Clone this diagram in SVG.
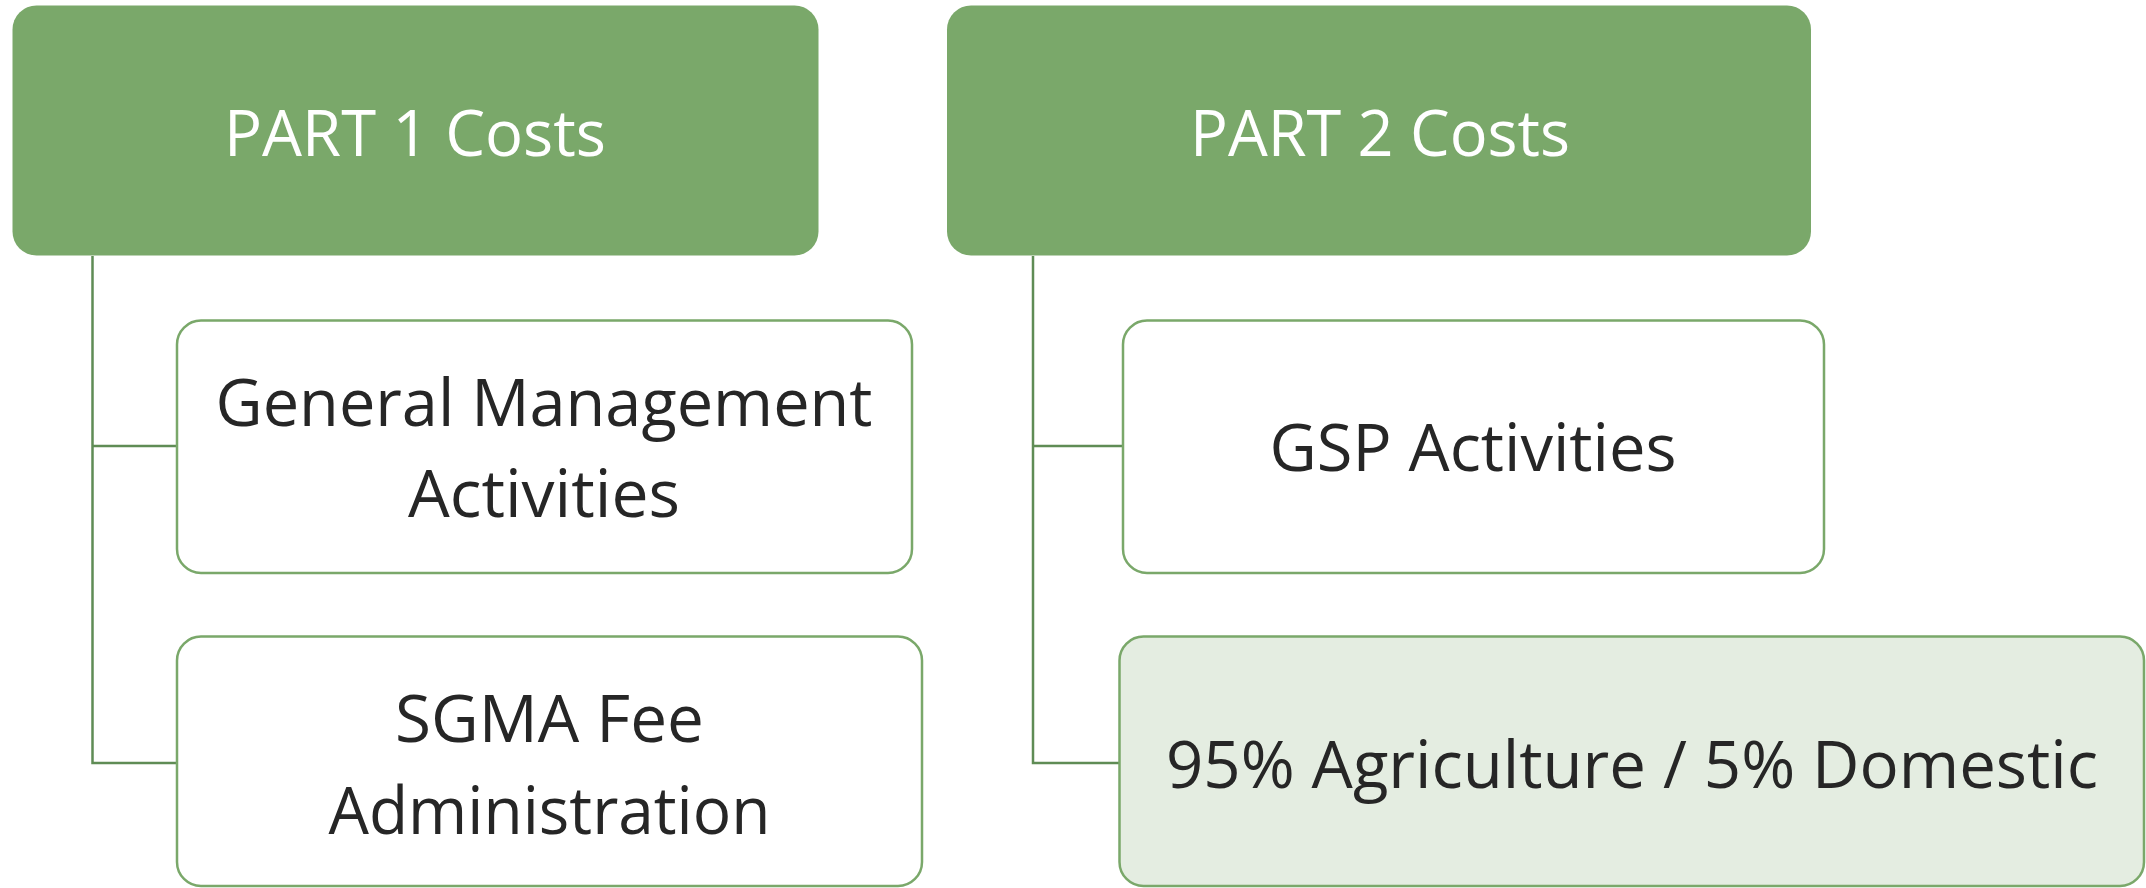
<svg xmlns="http://www.w3.org/2000/svg" width="2146" height="888" viewBox="0 0 2146 888">
<style>
.hdr{fill:#7aa86a;}
.box{fill:#ffffff;stroke:#7aa86a;stroke-width:2.5;}
.box2{fill:#e4ede1;stroke:#7aa86a;stroke-width:2.5;}
.conn{fill:none;stroke:#5f8c55;stroke-width:2.5;}
.th{font-family:"Open Sans","Noto Sans",sans-serif;font-size:64px;fill:#ffffff;text-anchor:middle;}
.tb{font-family:"Open Sans","Noto Sans",sans-serif;font-size:65px;fill:#262626;text-anchor:middle;}
</style>
<rect width="2146" height="888" fill="#ffffff"/>
<g id="connectors">
<path class="conn" d="M92.5 256 V763 H177 M92.5 446 H177"/>
<path class="conn" d="M1033 256 V763 H1119 M1033 446 H1123"/>
</g>
<g id="part1">
<rect class="hdr" x="12.5" y="5.5" width="806" height="250" rx="24"/>
<text class="th" x="415" y="156" textLength="382" lengthAdjust="spacingAndGlyphs">PART 1 Costs</text>
</g>
<g id="part2">
<rect class="hdr" x="947" y="5.5" width="864" height="250" rx="24"/>
<text class="th" x="1380" y="156" textLength="380" lengthAdjust="spacingAndGlyphs">PART 2 Costs</text>
</g>
<g id="general-management">
<rect class="box" x="177" y="320.5" width="735" height="252.5" rx="24"/>
<text class="tb" x="544" y="426" textLength="657" lengthAdjust="spacingAndGlyphs">General Management</text>
<text class="tb" x="544" y="517" textLength="272" lengthAdjust="spacingAndGlyphs">Activities</text>
</g>
<g id="sgma-fee">
<rect class="box" x="177" y="636.5" width="745" height="249.5" rx="24"/>
<text class="tb" x="549.5" y="742" textLength="309" lengthAdjust="spacingAndGlyphs">SGMA Fee</text>
<text class="tb" x="549.5" y="834" textLength="442" lengthAdjust="spacingAndGlyphs">Administration</text>
</g>
<g id="gsp-activities">
<rect class="box" x="1123" y="320.5" width="701" height="252.5" rx="24"/>
<text class="tb" x="1473" y="471" textLength="407" lengthAdjust="spacingAndGlyphs">GSP Activities</text>
</g>
<g id="ag-domestic">
<rect class="box2" x="1119.5" y="636.5" width="1024.5" height="249.5" rx="24"/>
<text class="tb" x="1632" y="788" textLength="932" lengthAdjust="spacingAndGlyphs">95% Agriculture / 5% Domestic</text>
</g>
</svg>
